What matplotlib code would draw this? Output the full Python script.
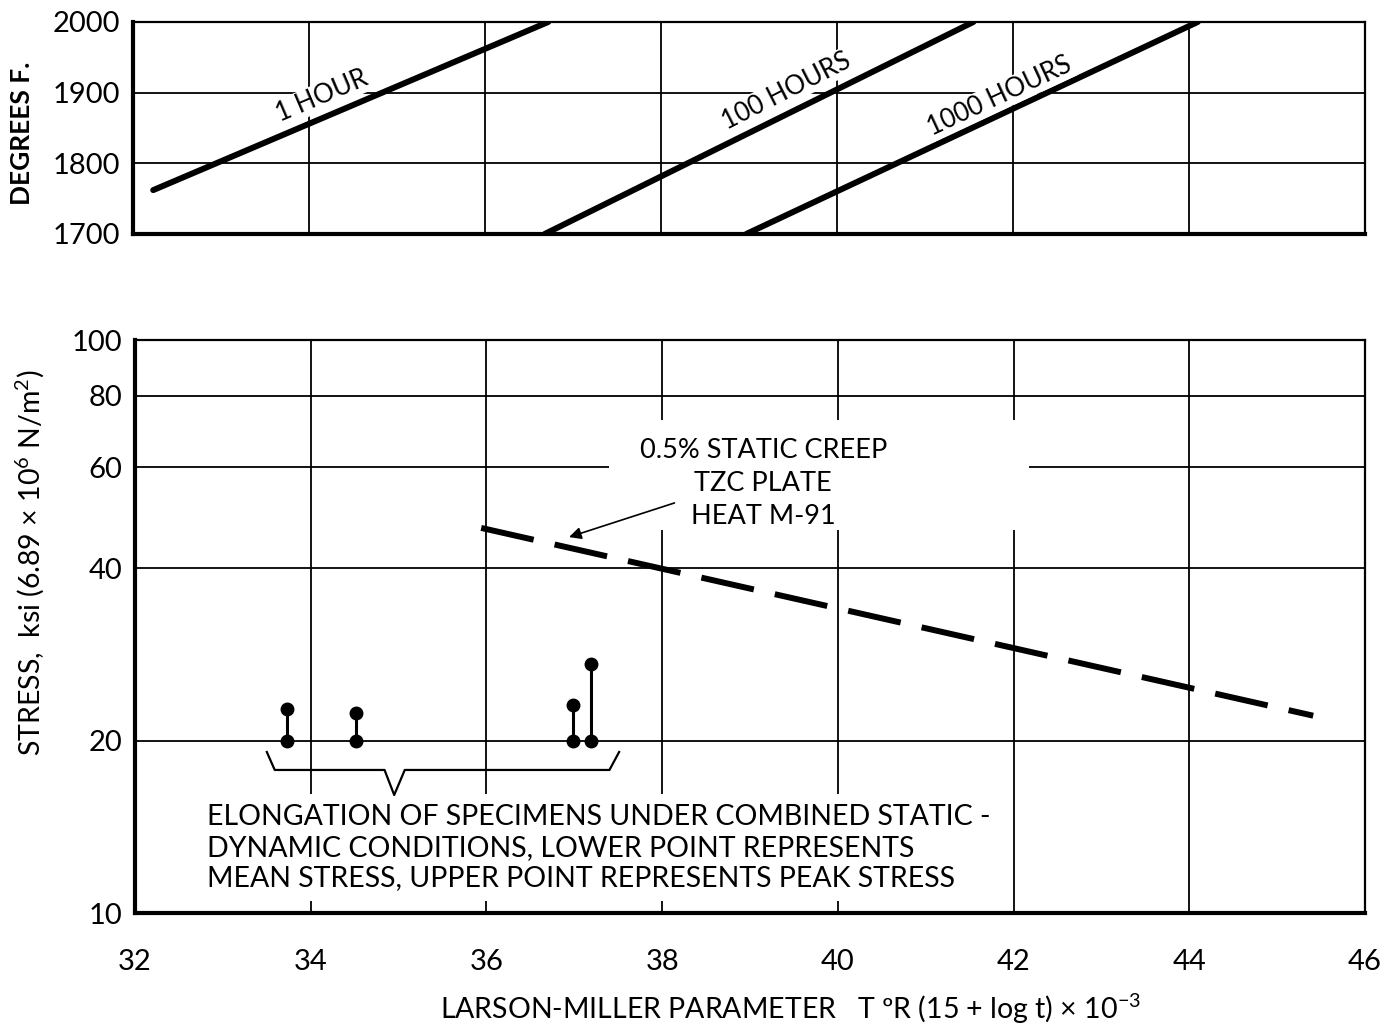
import matplotlib
matplotlib.use('Agg')
import matplotlib.pyplot as plt
from matplotlib.patches import Rectangle
from matplotlib.ticker import FixedLocator, NullLocator

plt.rcParams['font.family'] = ['Lato', 'DejaVu Sans']
plt.rcParams['mathtext.fontset'] = 'custom'
plt.rcParams['mathtext.rm'] = 'Lato'
plt.rcParams['mathtext.default'] = 'rm'

# ---- data ----
x_ticks = [32, 34, 36, 38, 40, 42, 44, 46]
temp_ticks = [1700, 1800, 1900, 2000]
stress_ticks = [10, 20, 40, 60, 80, 100]

# Larson-Miller lines (start, end) in (parameter, degrees F)
hour_labels = ['1 HOUR', '100 HOURS', '1000 HOURS']
hour_lmp = [[32.23, 36.72], [36.68, 41.55], [38.97, 44.10]]
hour_temp = [[1762, 2000], [1700, 2000], [1700, 2000]]
hour_label_pos = [(34.15, 1895), (39.42, 1902), (41.85, 1895)]
hour_label_rot = [23, 27, 25]

# static creep line
creep_lmp = [35.94, 45.41]
creep_stress = [47.0, 22.1]

# combined static-dynamic specimens
spec_lmp = [33.73, 34.51, 36.99, 37.19]
spec_mean = [20, 20, 20, 20]
spec_peak = [22.7, 22.3, 23.1, 27.2]

# bracket under the specimens
bracket_x = [33.50, 33.59, 34.84, 34.95, 35.07, 37.40, 37.51]
bracket_y = [19.1, 17.77, 17.77, 16.07, 17.77, 17.77, 19.1]

fig = plt.figure(figsize=(13.95, 10.26), dpi=100)
ax1 = fig.add_axes([0.0953, 0.772, 0.8832, 0.2066])
ax2 = fig.add_axes([0.0968, 0.1101, 0.8817, 0.5585])

for ax in (ax1, ax2):
    ax.set_xlim(32, 46)
    ax.tick_params(length=0)
    for s in ('left', 'bottom'):
        ax.spines[s].set_linewidth(3.0)
    for s in ('top', 'right'):
        ax.spines[s].set_linewidth(1.6)

# ---- top panel ----
ax1.set_ylim(1700, 2000)
ax1.xaxis.set_major_locator(FixedLocator(x_ticks))
ax1.yaxis.set_major_locator(FixedLocator(temp_ticks))
ax1.set_xticklabels([])
ax1.set_yticklabels([str(t) for t in temp_ticks], fontsize=21)
ax1.tick_params(axis='y', pad=9)
ax1.grid(True, color='black', lw=1.3)
ax1.set_axisbelow(True)
for lmp, temp in zip(hour_lmp, hour_temp):
    ax1.plot(lmp, temp, color='black', lw=4.3, solid_capstyle='round', zorder=3)
for lab, pos, rot in zip(hour_labels, hour_label_pos, hour_label_rot):
    ax1.text(pos[0], pos[1], lab, rotation=rot, rotation_mode='anchor',
             ha='center', va='center', fontsize=18.5, zorder=4,
             bbox=dict(facecolor='white', edgecolor='none', pad=1))

# ---- bottom panel ----
ax2.set_yscale('log')
ax2.set_ylim(10, 100)
ax2.xaxis.set_major_locator(FixedLocator(x_ticks))
ax2.yaxis.set_major_locator(FixedLocator(stress_ticks))
ax2.yaxis.set_minor_locator(NullLocator())
ax2.set_xticklabels([str(t) for t in x_ticks], fontsize=21)
ax2.set_yticklabels([str(t) for t in stress_ticks], fontsize=21)
ax2.tick_params(axis='x', pad=26)
ax2.tick_params(axis='y', pad=9)
ax2.grid(True, which='major', color='black', lw=1.3)
ax2.set_axisbelow(True)

ax2.plot(creep_lmp, creep_stress, color='black', lw=4.3, dashes=(9, 3.6), zorder=3)
for x, lo, hi in zip(spec_lmp, spec_mean, spec_peak):
    ax2.plot([x, x], [lo, hi], color='black', lw=2.2, marker='o', ms=9, zorder=4)
ax2.plot(bracket_x, bracket_y, color='black', lw=1.6, zorder=4)

ax2.text(32.82, 15.5, 'ELONGATION OF SPECIMENS UNDER COMBINED STATIC -\n'
         'DYNAMIC CONDITIONS, LOWER POINT REPRESENTS\n'
         'MEAN STRESS, UPPER POINT REPRESENTS PEAK STRESS',
         fontsize=20.5, linespacing=1.22, ha='left', va='top', zorder=2,
         bbox=dict(facecolor='white', edgecolor='none', pad=7))

# white gap in the grid behind the creep label
ax2.add_patch(Rectangle((37.4, 46.6), 4.77, 25.9, facecolor='white',
                        edgecolor='none', zorder=1.5))
ax2.text(39.15, 56.1, '0.5% STATIC CREEP\nTZC PLATE\nHEAT M-91',
         ha='center', va='center', fontsize=19.5, linespacing=1.4, zorder=2)
ax2.annotate('', xy=(36.94, 45.3), xytext=(38.14, 51.96), zorder=4,
             arrowprops=dict(arrowstyle='-|>', color='black', lw=1.2,
                             mutation_scale=18, shrinkA=0, shrinkB=0))

fig.text(0.016, 0.870, 'DEGREES F.', rotation=90, ha='center', va='center',
         fontsize=19, fontweight='bold')
fig.text(0.021, 0.452, r'STRESS,  ksi (6.89 $\times$ 10$^{6}$ N/m$^{2}$)',
         rotation=90, ha='center', va='center', fontsize=20.5)
fig.text(0.567, 0.017, r'LARSON-MILLER PARAMETER   T ºR (15 + log t) $\times$ 10$^{-3}$',
         ha='center', va='center', fontsize=20.5)

fig.savefig('out.png', dpi=100)
